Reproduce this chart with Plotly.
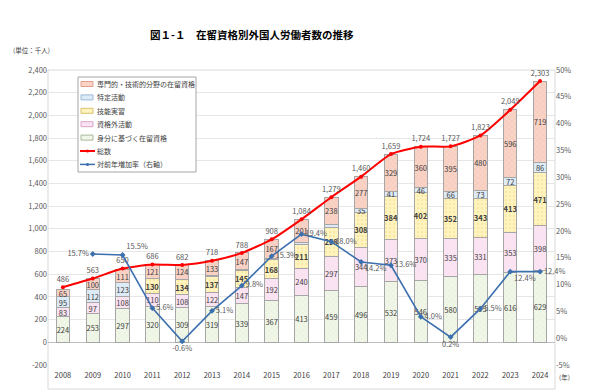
import plotly.graph_objects as go

years = [str(y) for y in range(2008, 2025)]
mibun = [224, 253, 297, 320, 309, 319, 339, 367, 413, 459, 496, 532, 546, 580, 595, 616, 629]
shikakugai = [83, 97, 108, 110, 108, 122, 147, 192, 240, 297, 344, 373, 370, 335, 331, 353, 398]
ginou = [0, 0, 0, 130, 134, 137, 145, 168, 211, 258, 308, 384, 402, 352, 343, 413, 471]
tokutei = [95, 112, 123, 5, 7, 7, 10, 14, 19, 27, 35, 41, 46, 66, 73, 72, 86]
tokutei_labels = ["95", "112", "123", "", "", "", "", "", "", "", "35", "41", "46", "66", "73", "72", "86"]
senmon = [65, 100, 111, 121, 124, 133, 147, 167, 201, 238, 277, 329, 360, 395, 480, 596, 719]
total = [486, 563, 650, 686, 682, 718, 788, 908, 1084, 1279, 1460, 1659, 1724, 1727, 1823, 2049, 2303]
growth = [None, 15.7, 15.5, 5.6, -0.6, 5.1, 9.8, 15.3, 19.4, 18.0, 14.2, 13.6, 4.0, 0.2, 5.5, 12.4, 12.4]
growth_pos = ["middle right", "middle left", "top right", "middle right", "bottom center",
              "middle right", "middle right", "middle right", "middle right", "middle right",
              "bottom right", "middle right", "middle right", "bottom center", "middle right",
              "bottom right", "middle right"]
left_ticks = list(range(-200, 2401, 200))
right_ticks = list(range(-5, 51, 5))

FONT = "Noto Sans CJK JP"
LBL = dict(size=7.5, color="#404040", family=FONT)
BORDER = dict(color="#A6A6A6", width=1)

# page has an 8px body margin; figure sized to fit the 600x390 window
OFF = 8
W, H = 600 - OFF, 390 - OFF
# plot area in screen pixels
PL, PR, PT, PB = 48, 555, 70, 365
def px(x):
    return (x - PL) / (PR - PL)
def py(y):
    return (PB - y) / (PB - PT)

fig = go.Figure()

def add_bar(name, vals, labels, color, pattern, bold=False):
    tt = "<b>%{text}</b>" if bold else "%{text}"
    fig.add_trace(go.Bar(
        x=years, y=vals, name=name, text=labels, texttemplate=tt,
        textposition="inside", insidetextanchor="middle", textangle=0,
        constraintext="none", textfont=LBL,
        marker=dict(color=color, line=BORDER, pattern=pattern),
        showlegend=False, hoverinfo="skip"))

add_bar("身分に基づく在留資格", mibun, [str(v) for v in mibun], "#F1F7E8",
        dict(shape="x", fgcolor="#C8DDAE", size=4, solidity=0.15))
add_bar("資格外活動", shikakugai, [str(v) for v in shikakugai], "#FAE3F2",
        dict(shape="x", fgcolor="#F0C9E2", size=4, solidity=0.1))
add_bar("技能実習", ginou, [str(v) if v else "" for v in ginou], "#FFF3BF",
        dict(shape=".", fgcolor="#F2D66B", size=4, solidity=0.2), bold=True)
add_bar("特定活動", tokutei, tokutei_labels, "#DDEBF7", None)
add_bar("専門的・技術的分野の在留資格", senmon, [str(v) for v in senmon], "#F9D3C6",
        dict(shape="x", fgcolor="#E9A997", size=4, solidity=0.15))

fig.add_trace(go.Scatter(
    x=years, y=total, name="総数", mode="lines+markers+text", cliponaxis=False,
    line=dict(color="#FF0000", width=2, shape="spline", smoothing=0.6),
    marker=dict(size=4, color="#FF0000"),
    text=[f"{v:,}" for v in total], textposition="top center",
    textfont=dict(size=7.5, color="#595959", family=FONT), showlegend=False, hoverinfo="skip"))

fig.add_trace(go.Scatter(
    x=years, y=growth, name="対前年増加率（右軸）", mode="lines+markers+text", yaxis="y2",
    cliponaxis=False,
    line=dict(color="#3C6FAE", width=1.6), marker=dict(size=4.5, color="#3C6FAE", symbol="diamond"),
    text=[f"{v:.1f}%" if v is not None else "" for v in growth], textposition=growth_pos,
    textfont=dict(size=7.5, color="#595959", family=FONT), showlegend=False, hoverinfo="skip"))

# manual legend
legend_items = [
    ("専門的・技術的分野の在留資格", "bar", "#F9D3C6", "#E0A090"),
    ("特定活動", "bar", "#DDEBF7", "#9DB9D8"),
    ("技能実習", "bar", "#FFF3BF", "#D8C26A"),
    ("資格外活動", "bar", "#FAE3F2", "#D9A8C8"),
    ("身分に基づく在留資格", "bar", "#F1F7E8", "#A9B99A"),
    ("総数", "line", "#FF0000", None),
    ("対前年増加率（右軸）", "line", "#3C6FAE", None),
]
shapes = [
    dict(type="rect", xref="paper", yref="paper", x0=0, x1=1, y0=py(389), y1=py(PT),
         line=dict(color="#D9D9D9", width=1), layer="below"),
    dict(type="rect", xref="paper", yref="paper", x0=px(78), x1=px(196), y0=py(172), y1=py(77),
         line=dict(color="#A6A6A6", width=1), fillcolor="white", layer="above"),
]
annotations = [
    dict(text="<b>図１-１　在留資格別外国人労働者数の推移</b>", xref="paper", yref="paper",
         x=px(252), y=py(25), showarrow=False, font=dict(size=10.5, color="#000000", family=FONT)),
    dict(text="(単位：千人)", xref="paper", yref="paper", x=px(11), y=py(43), xanchor="left",
         showarrow=False, font=dict(size=6.5, color="#404040", family=FONT)),
    dict(text="(年)", xref="paper", yref="paper", x=px(557), y=py(384), xanchor="left",
         showarrow=False, font=dict(size=6.5, color="#404040", family=FONT)),
]
for i, (name, kind, col, edge) in enumerate(legend_items):
    cy = 84 + i * 13.4
    if kind == "bar":
        shapes.append(dict(type="rect", xref="paper", yref="paper", x0=px(81), x1=px(93),
                           y0=py(cy + 2.5), y1=py(cy - 2.5), fillcolor=col,
                           line=dict(color=edge, width=1), layer="above"))
    else:
        shapes.append(dict(type="line", xref="paper", yref="paper", x0=px(80), x1=px(95),
                           y0=py(cy), y1=py(cy), line=dict(color=col, width=2 if i == 5 else 1.5),
                           layer="above"))
        shapes.append(dict(type="circle", xref="paper", yref="paper", x0=px(86), x1=px(89),
                           y0=py(cy + 1.5), y1=py(cy - 1.5), fillcolor=col,
                           line=dict(color=col, width=0), layer="above"))
    annotations.append(dict(text=name, xref="paper", yref="paper", x=px(95), y=py(cy),
                            xanchor="left", yanchor="middle", showarrow=False,
                            font=dict(size=7, color="#404040", family=FONT)))

fig.update_layout(
    width=W, height=H, barmode="stack", bargap=0.55,
    margin=dict(l=PL - OFF, r=600 - PR, t=PT - OFF, b=390 - PB, autoexpand=False),
    paper_bgcolor="white", plot_bgcolor="white",
    font=dict(family=FONT, size=8, color="#595959"),
    showlegend=False,
    xaxis=dict(type="category", range=[-0.5, len(years) - 0.5], autorange=False,
               showgrid=False, ticks="", showline=False, automargin=False,
               ticklabelstandoff=4,
               tickfont=dict(size=7.5, color="#404040", family=FONT)),
    yaxis=dict(range=[-200, 2400], tickvals=left_ticks, ticktext=[f"{v:,}" for v in left_ticks],
               showgrid=True, gridcolor="#E6E6E6", gridwidth=1, automargin=False,
               zeroline=True, zerolinecolor="#BFBFBF", zerolinewidth=1,
               tickfont=dict(size=7.5, color="#595959", family=FONT)),
    yaxis2=dict(range=[-5, 50], tickvals=right_ticks, ticktext=[f"{v}%" for v in right_ticks],
                overlaying="y", side="right", showgrid=False, zeroline=False, automargin=False,
                tickfont=dict(size=7.5, color="#595959", family=FONT)),
    shapes=shapes,
    annotations=annotations,
)

fig.write_html("out.html")
